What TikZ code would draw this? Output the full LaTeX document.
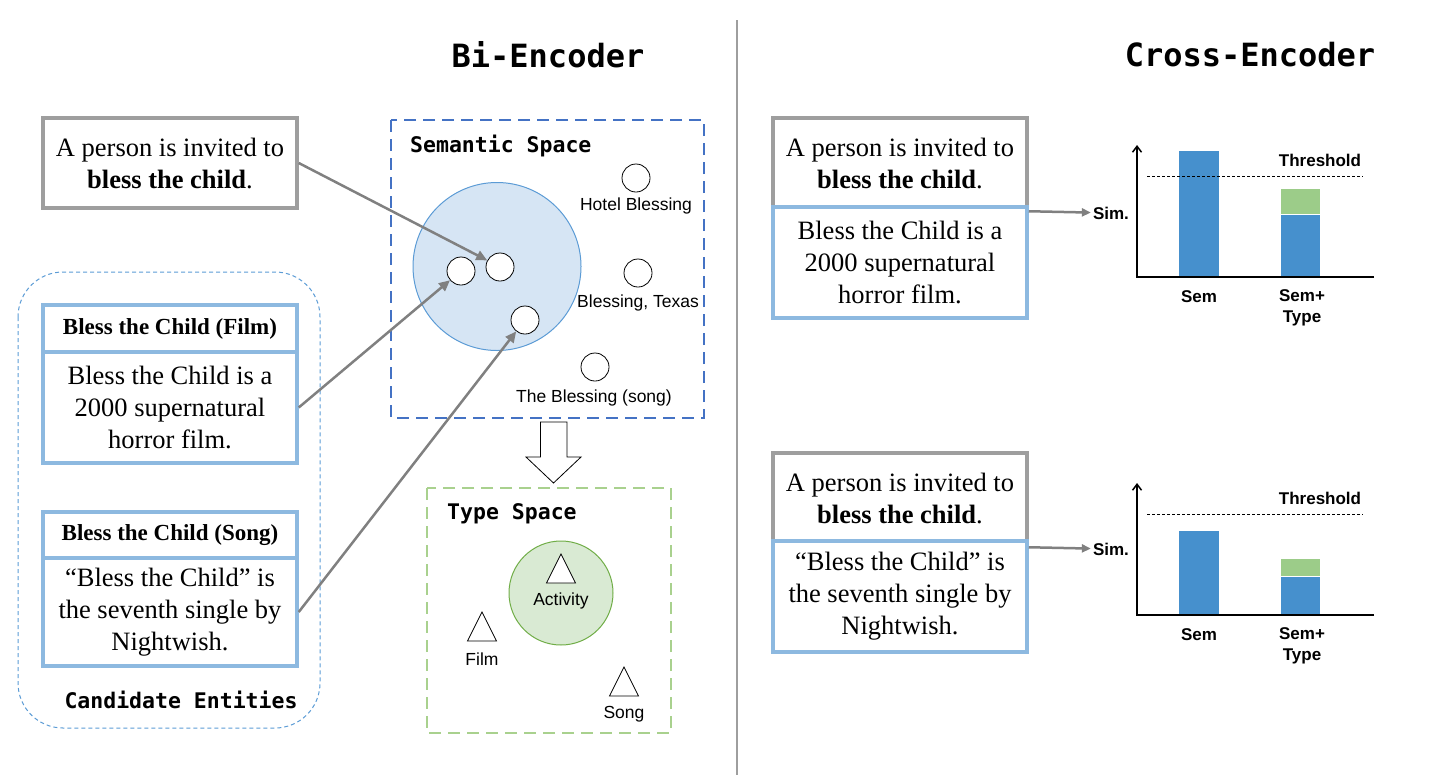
\documentclass[tikz,border=0pt]{standalone}
\usepackage{fontspec}
\setmainfont{Liberation Serif}
\setsansfont{Liberation Sans}
\setmonofont{DejaVu Sans Mono}
\usetikzlibrary{arrows.meta}

\definecolor{boxgray}{RGB}{158,158,158}
\definecolor{entblue}{RGB}{141,185,224}
\definecolor{candblue}{RGB}{91,155,213}
\definecolor{semblue}{RGB}{68,114,196}
\definecolor{circblue}{RGB}{214,229,244}
\definecolor{typegreen}{RGB}{169,209,142}
\definecolor{circgreen}{RGB}{217,234,211}
\definecolor{edgegreen}{RGB}{112,173,71}
\definecolor{linkgray}{RGB}{128,128,128}
\definecolor{barblue}{RGB}{70,144,205}
\definecolor{bargreen}{RGB}{156,204,137}

\tikzset{
	sent/.style={font=\fontsize{26.5}{32}\selectfont, align=center, inner sep=0pt, minimum width=254pt, fill=white, line width=3.5pt},
	query/.style={sent, draw=boxgray, minimum height=90pt},
	desc/.style={sent, draw=entblue},
	etitle/.style={desc, font=\fontsize{23}{26}\selectfont\bfseries},
	heading/.style={font=\fontsize{32}{36}\selectfont\ttfamily\bfseries, inner sep=0pt},
	spacelbl/.style={font=\fontsize{21.5}{24}\selectfont\ttfamily\bfseries, inner sep=0pt},
	ent/.style={circle, draw, thick, fill=white, minimum size=28pt, inner sep=0pt},
	lbl/.style={font=\fontsize{17.5}{20}\selectfont\sffamily, inner sep=0pt},
	barlbl/.style={font=\fontsize{17}{21}\selectfont\sffamily\bfseries, inner sep=0pt, align=center},
	link/.style={draw=linkgray, line width=2.5pt, -{Triangle[length=11pt,width=10pt]}},
	simlink/.style={draw=linkgray, line width=2.5pt, -{Triangle[length=9pt,width=8pt]}},
	spacebox/.style={line width=2pt, dash pattern=on 12pt off 7pt}
}

\begin{document}
\begin{tikzpicture}[x=1pt,y=-1pt]
	\useasboundingbox (0,0) rectangle (1437,782);
	\draw[line width=1.5pt, boxgray] (737,20) -- (737,775);
	\node[heading] (bi) at (548,55) {Bi-Encoder};
	\node[heading] (cross) at (1250,55) {Cross-Encoder};

	% bi-encoder, left
	\node[query] (q) at (170,163) {A person is invited to\\\textbf{bless the child}.};
	\draw[candblue, line width=1pt, dash pattern=on 4pt off 3pt, rounded corners=45pt] (18,272) rectangle (320,728);
	\node[etitle, minimum height=47pt] (ftitle) at (170,328.5) {Bless the Child (Film)};
	\node[desc, minimum height=111pt] (fdesc) at (170,407.5) {Bless the Child is a\\2000 supernatural\\horror film.};
	\node[etitle, minimum height=46pt] (stitle) at (170,535) {Bless the Child (Song)};
	\node[desc, minimum height=108pt] (sdesc) at (170,612) {“Bless the Child” is\\the seventh single by\\Nightwish.};
	\node[spacelbl] (cand) at (181,700) {Candidate Entities};

	\draw[semblue, spacebox] (391,120) rectangle (704,418);
	\node[spacelbl, anchor=west] (sem) at (410,146) {Semantic Space};
	\node[circle, fill=circblue, draw=candblue, line width=1pt, minimum size=168pt] (cl) at (497,266.5) {};
	\node[ent] (e1) at (461,271) {};
	\node[ent] (e2) at (500,267) {};
	\node[ent] (e3) at (525,320) {};
	\node[ent] (h) at (636,178) {};
	\node[lbl] (hl) at (636,206) {Hotel Blessing};
	\node[ent] (bt) at (638,273) {};
	\node[lbl] (btl) at (638,303) {Blessing, Texas};
	\node[ent] (bs) at (595,367) {};
	\node[lbl] (bsl) at (594,398) {The Blessing (song)};
	\draw[link] (q.east) -- (e2);
	\draw[link] (fdesc.east) -- (e1);
	\draw[link] (sdesc.east) -- (e3);

	\draw[thick, fill=white] (540.5,422) -- (567,422) -- (567,457) -- (581,457) -- (553.5,483) -- (526,457) -- (540.5,457) -- cycle;

	\draw[typegreen, spacebox] (427,488) rectangle (671,733);
	\node[spacelbl, anchor=west] (ts) at (447,514) {Type Space};
	\node[circle, fill=circgreen, draw=edgegreen, line width=1pt, minimum size=104pt] (ca) at (561,593) {};
	\foreach \x/\y/\t [count=\i] in {561/583/Activity, 482/641/Film, 624/696/Song} {
		\draw[thick, fill=white] ({\x-14.5},\y) -- (\x,{\y-29}) -- ({\x+14.5},\y) -- cycle;
		\node[lbl] (t\i) at (\x,{\y+18}) {\t};
	}

	% cross-encoder, right
	\node[query] (rq1) at (900,163) {A person is invited to\\\textbf{bless the child}.};
	\node[desc, minimum height=111pt] (rd1) at (900,262.5) {Bless the Child is a\\2000 supernatural\\horror film.};
	\node[query] (rq2) at (900,498) {A person is invited to\\\textbf{bless the child}.};
	\node[desc, minimum height=111pt] (rd2) at (900,596.5) {“Bless the Child” is\\the seventh single by\\Nightwish.};
	\node[barlbl, inner sep=2pt] (sim1) at (1111,213) {Sim.};
	\node[barlbl, inner sep=2pt] (sim2) at (1111,549) {Sim.};
	\draw[simlink] ([yshift=-6pt]rd1.north east) -- (sim1);
	\draw[simlink] ([yshift=-8pt]rd2.north east) -- (sim2);
	\foreach \oy/\s/\b/\g [count=\k] in {0/151/214/189, 338/193/238/221} {
		\begin{scope}[shift={(0,\oy)}]
			\fill[barblue] (1179,277) rectangle (1219,\s);
			\fill[barblue] (1281,277) rectangle (1320,\b);
			\fill[bargreen] (1281,\b) rectangle (1320,\g);
			\draw[white, line width=0.8pt] (1281,\b) -- (1320,\b);
			\draw[densely dashed, line width=0.8pt] (1147,176) -- (1363,176);
			\draw[line width=1.5pt, -{Straight Barb[length=6pt,width=9pt]}] (1374,277) -- (1137,277) -- (1137,145);
			\node[barlbl] (thr\k) at (1320,160) {Threshold};
			\node[barlbl] (s\k) at (1199,297) {Sem};
			\node[barlbl] (st\k) at (1302,308) {Sem+\\Type};
		\end{scope}
	}
\end{tikzpicture}
\end{document}
